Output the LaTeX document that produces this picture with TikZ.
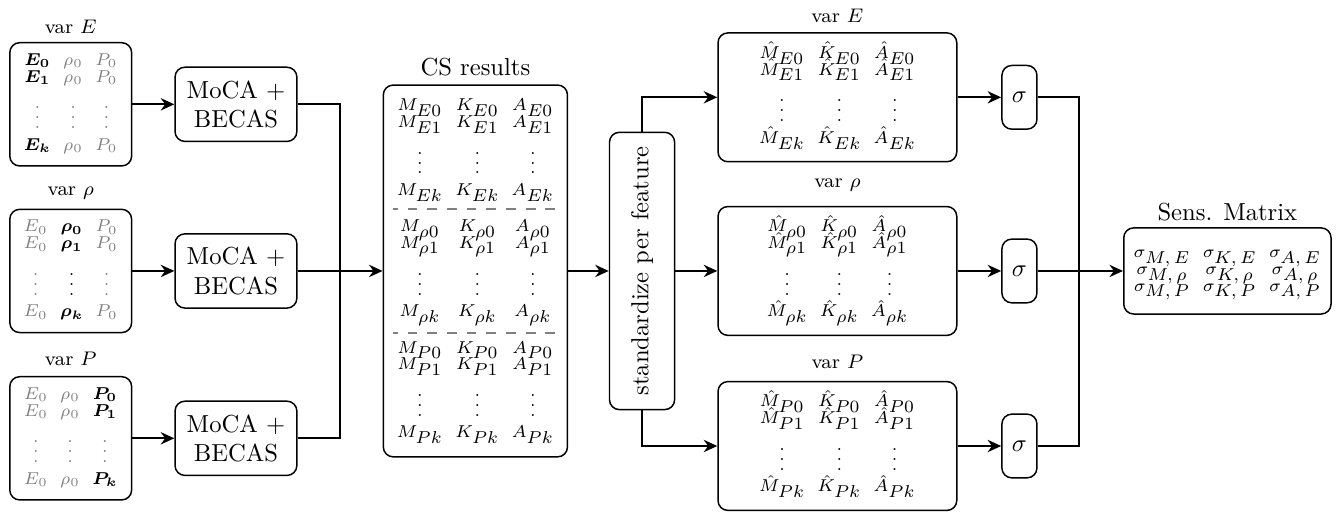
\documentclass[tikz,border=0pt]{standalone}
\usepackage{amsmath}
\usepackage{graphicx}
\usetikzlibrary{arrows.meta}
\setlength{\arraycolsep}{2.5pt}
\renewcommand{\arraystretch}{0.85}
\newcommand{\off}[1]{\textcolor{gray}{#1}}
% symbol with a full size index, kept out of the row height
\newcommand{\ssub}[2]{\smash{#1_{\textstyle #2}}}
\begin{document}
\begin{tikzpicture}[
box/.style={draw,semithick,rounded corners=4pt,align=center,inner sep=2pt},
input/.style={box,minimum width=1.74cm,minimum height=1.76cm,font=\scriptsize},
solver/.style={box,minimum width=1.74cm,minimum height=1.06cm},
results/.style={box,minimum width=2.63cm,minimum height=5.31cm,font=\scriptsize},
feature/.style={box,minimum width=3.41cm,minimum height=1.84cm,font=\scriptsize},
sigmabox/.style={box,minimum width=0.5cm,minimum height=0.91cm},
title/.style={font=\footnotesize},
flow/.style={-{Stealth[length=5.5pt,width=5pt]},thick},
divider/.style={gray,thick,dash pattern=on 4pt off 4pt,dash phase=2pt},
]
\useasboundingbox (0,0) rectangle (19.11,7.33);
%input variations
\node[title](tE)at(1.01,6.94){var $E$};
\node[input](varE)at(1.01,5.84){$\begin{matrix}
\boldsymbol{E_0}&\off{\rho_0}&\off{P_0}\\
\boldsymbol{E_1}&\off{\rho_0}&\off{P_0}\\[2pt]
\off{\vdots}&\off{\vdots}&\off{\vdots}\\[2pt]
\boldsymbol{E_k}&\off{\rho_0}&\off{P_0}
\end{matrix}$};
\node[title](tR)at(1.01,4.57){var $\rho$};
\node[input](varR)at(1.01,3.46){$\begin{matrix}
\off{E_0}&\boldsymbol{\rho_0}&\off{P_0}\\
\off{E_0}&\boldsymbol{\rho_1}&\off{P_0}\\[2pt]
\off{\vdots}&\vdots&\off{\vdots}\\[2pt]
\off{E_0}&\boldsymbol{\rho_k}&\off{P_0}
\end{matrix}$};
\node[title](tP)at(1.01,2.21){var $P$};
\node[input](varP)at(1.01,1.07){$\begin{matrix}
\off{E_0}&\off{\rho_0}&\boldsymbol{P_0}\\
\off{E_0}&\off{\rho_0}&\boldsymbol{P_1}\\[2pt]
\off{\vdots}&\off{\vdots}&\off{\vdots}\\[2pt]
\off{E_0}&\off{\rho_0}&\boldsymbol{P_k}
\end{matrix}$};
%cross-section analysis
\node[solver](mocaE)at(3.37,5.84){MoCA +\\BECAS};
\node[solver](mocaR)at(3.37,3.46){MoCA +\\BECAS};
\node[solver](mocaP)at(3.37,1.07){MoCA +\\BECAS};
%collected results
\node(tCS)at(6.79,6.37){CS results};
\node[results](cs)at(6.79,3.46){$\begin{matrix}
\ssub{M}{E0}&\ssub{K}{E0}&\ssub{A}{E0}\\
\ssub{M}{E1}&\ssub{K}{E1}&\ssub{A}{E1}\\[2pt]
\vdots&\vdots&\vdots\\[2pt]
\ssub{M}{Ek}&\ssub{K}{Ek}&\ssub{A}{Ek}\\[8pt]
\ssub{M}{\rho0}&\ssub{K}{\rho0}&\ssub{A}{\rho0}\\
\ssub{M}{\rho1}&\ssub{K}{\rho1}&\ssub{A}{\rho1}\\[2pt]
\vdots&\vdots&\vdots\\[2pt]
\ssub{M}{\rho k}&\ssub{K}{\rho k}&\ssub{A}{\rho k}\\[8pt]
\ssub{M}{P0}&\ssub{K}{P0}&\ssub{A}{P0}\\
\ssub{M}{P1}&\ssub{K}{P1}&\ssub{A}{P1}\\[2pt]
\vdots&\vdots&\vdots\\[2pt]
\ssub{M}{Pk}&\ssub{K}{Pk}&\ssub{A}{Pk}
\end{matrix}$};
\draw[divider](5.61,4.35)--(7.97,4.35);
\draw[divider](5.61,2.57)--(7.97,2.57);
%standardization
\node[box,minimum width=0.93cm,minimum height=3.96cm](std)at(9.17,3.46){\rotatebox{90}{standardize per feature}};
\node[title](tHE)at(11.96,7.11){var $E$};
\node[feature](hatE)at(11.96,5.94){$\begin{matrix}
\ssub{\hat{M}}{E0}&\ssub{\hat{K}}{E0}&\ssub{\hat{A}}{E0}\\
\ssub{\hat{M}}{E1}&\ssub{\hat{K}}{E1}&\ssub{\hat{A}}{E1}\\[2pt]
\vdots&\vdots&\vdots\\[2pt]
\ssub{\hat{M}}{Ek}&\ssub{\hat{K}}{Ek}&\ssub{\hat{A}}{Ek}
\end{matrix}$};
\node[title](tHR)at(11.96,4.69){var $\rho$};
\node[feature](hatR)at(11.96,3.46){$\begin{matrix}
\ssub{\hat{M}}{\rho0}&\ssub{\hat{K}}{\rho0}&\ssub{\hat{A}}{\rho0}\\
\ssub{\hat{M}}{\rho1}&\ssub{\hat{K}}{\rho1}&\ssub{\hat{A}}{\rho1}\\[2pt]
\vdots&\vdots&\vdots\\[2pt]
\ssub{\hat{M}}{\rho k}&\ssub{\hat{K}}{\rho k}&\ssub{\hat{A}}{\rho k}
\end{matrix}$};
\node[title](tHP)at(11.96,2.16){var $P$};
\node[feature](hatP)at(11.96,0.96){$\begin{matrix}
\ssub{\hat{M}}{P0}&\ssub{\hat{K}}{P0}&\ssub{\hat{A}}{P0}\\
\ssub{\hat{M}}{P1}&\ssub{\hat{K}}{P1}&\ssub{\hat{A}}{P1}\\[2pt]
\vdots&\vdots&\vdots\\[2pt]
\ssub{\hat{M}}{Pk}&\ssub{\hat{K}}{Pk}&\ssub{\hat{A}}{Pk}
\end{matrix}$};
%spread per variable
\node[sigmabox](sigE)at(14.56,5.94){$\sigma$};
\node[sigmabox](sigR)at(14.56,3.46){$\sigma$};
\node[sigmabox](sigP)at(14.56,0.96){$\sigma$};
%sensitivity matrix
\node(tSens)at(17.53,4.3){Sens. Matrix};
\node[box,minimum width=2.96cm,minimum height=1.23cm,font=\scriptsize](sens)at(17.53,3.46){$\begin{matrix}
\ssub{\sigma}{M,E}&\ssub{\sigma}{K,E}&\ssub{\sigma}{A,E}\\
\ssub{\sigma}{M,\rho}&\ssub{\sigma}{K,\rho}&\ssub{\sigma}{A,\rho}\\
\ssub{\sigma}{M,P}&\ssub{\sigma}{K,P}&\ssub{\sigma}{A,P}
\end{matrix}$};

%connections
\draw[flow](varE)--(mocaE);
\draw[flow](varR)--(mocaR);
\draw[flow](varP)--(mocaP);
\coordinate(join)at(4.86,3.46);
\draw[thick](mocaE.east)-|(join)|-(mocaP.east);
\draw[flow](mocaR)--(cs);
\draw[flow](cs)--(std);
\draw[flow](std.north)|-(hatE);
\draw[flow](std)--(hatR);
\draw[flow](std.south)|-(hatP);
\draw[flow](hatE)--(sigE);
\draw[flow](hatR)--(sigR);
\draw[flow](hatP)--(sigP);
\coordinate(merge)at(15.41,3.46);
\draw[thick](sigE.east)-|(merge)|-(sigP.east);
\draw[flow](sigR)--(sens);
\end{tikzpicture}
\end{document}
